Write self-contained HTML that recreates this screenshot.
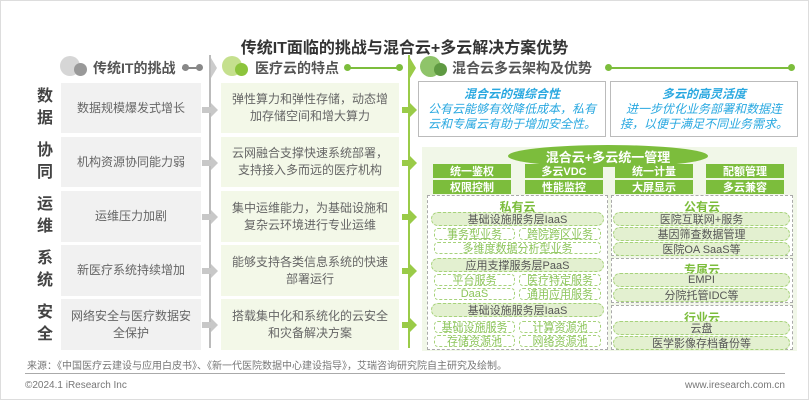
<!DOCTYPE html>
<html><head><meta charset="utf-8"><style>
*{margin:0;padding:0;box-sizing:border-box}
body{width:809px;height:400px;background:#fff;position:relative;overflow:hidden;font-family:"Liberation Sans","Noto Sans CJK SC",sans-serif;}
.a{position:absolute}
.c{display:flex;align-items:center;justify-content:center;text-align:center}
.gb{background:#f1f1f1;color:#666;font-size:12px;line-height:17px}
.lb{background:#f3f8e8;color:#666;font-size:12px;line-height:17px}
.rl{font-weight:bold;font-size:16px;color:#444;width:20px;text-align:center;line-height:22px}
.gr{background:#7cbd3c;color:#fff;font-weight:bold;font-size:11px}
.pill{border:1px dashed #a6d27a;background:#e3f0d0;border-radius:8px;color:#555;font-size:11px}
.sp{border:1px dashed #a6d27a;background:#fff;border-radius:4px;color:#8cc45a;font-size:11px}
.dash{border:1px dashed #aaa}
.ct{color:#7cbd3c;font-weight:bold;font-size:12px}
.hd{font-weight:bold;font-size:14px;color:#555}
</style></head><body>
<div class="a" style="left:0;top:0;width:809px;height:400px;border:1px solid #ddd"></div>
<div class="a" style="left:0;top:34px;width:809px;text-align:center;font-weight:bold;font-size:16px;color:#333">传统IT面临的挑战与混合云+多云解决方案优势</div>
<!-- headers -->
<div class="a" style="left:60px;top:56px;width:20px;height:20px;border-radius:50%;background:#d6d6d6"></div>
<div class="a" style="left:74px;top:63px;width:13px;height:13px;border-radius:50%;background:#999"></div>
<div class="a hd" style="left:93px;top:58px">传统IT的挑战</div>
<div class="a" style="left:182px;top:67px;width:18px;height:2px;background:#888"></div>
<div class="a" style="left:182px;top:64px;width:7px;height:7px;border-radius:50%;background:#888"></div>
<div class="a" style="left:196px;top:64px;width:7px;height:7px;border-radius:50%;background:#888"></div>
<div class="a" style="left:209px;top:55px;width:2px;height:293px;background:#bbb"></div>
<div class="a" style="left:211px;top:58px;width:0;height:0;border-top:10px solid transparent;border-bottom:10px solid transparent;border-left:6px solid #ccc"></div>
<div class="a" style="left:222px;top:56px;width:20px;height:20px;border-radius:50%;background:#c5e08e"></div>
<div class="a" style="left:235px;top:63px;width:13px;height:13px;border-radius:50%;background:#8cc43c"></div>
<div class="a hd" style="left:255px;top:58px">医疗云的特点</div>
<div class="a" style="left:346px;top:67px;width:54px;height:2px;background:#7cbd3c"></div>
<div class="a" style="left:344px;top:64px;width:7px;height:7px;border-radius:50%;background:#7cbd3c"></div>
<div class="a" style="left:396px;top:64px;width:7px;height:7px;border-radius:50%;background:#7cbd3c"></div>
<div class="a" style="left:408px;top:55px;width:2px;height:293px;background:#9acb48"></div>
<div class="a" style="left:410px;top:58px;width:0;height:0;border-top:10px solid transparent;border-bottom:10px solid transparent;border-left:6px solid #9acb48"></div>
<div class="a" style="left:420px;top:56px;width:21px;height:21px;border-radius:50%;background:#8fc46a"></div>
<div class="a" style="left:434px;top:63px;width:13px;height:13px;border-radius:50%;background:#5f9a42"></div>
<div class="a hd" style="left:452px;top:58px">混合云多云架构及优势</div>
<div class="a" style="left:608px;top:67px;width:184px;height:2px;background:#7cbd3c"></div>
<div class="a" style="left:605px;top:64px;width:7px;height:7px;border-radius:50%;background:#7cbd3c"></div>
<div class="a" style="left:788px;top:64px;width:7px;height:7px;border-radius:50%;background:#7cbd3c"></div>
<!-- rows -->
<div class="a rl" style="left:35px;top:86px">数<br>据</div>
<div class="a rl" style="left:35px;top:140px">协<br>同</div>
<div class="a rl" style="left:35px;top:194px">运<br>维</div>
<div class="a rl" style="left:35px;top:248px">系<br>统</div>
<div class="a rl" style="left:35px;top:302px">安<br>全</div>
<div class="a c gb" style="left:61px;top:83px;width:140px;height:50px">数据规模爆发式增长</div>
<div class="a c gb" style="left:61px;top:137px;width:140px;height:50px">机构资源协同能力弱</div>
<div class="a c gb" style="left:61px;top:191px;width:140px;height:51px">运维压力加剧</div>
<div class="a c gb" style="left:61px;top:245px;width:140px;height:51px">新医疗系统持续增加</div>
<div class="a c gb" style="left:61px;top:299px;width:140px;height:51px;padding:0 6px">网络安全与医疗数据安全保护</div>
<div class="a c lb" style="left:221px;top:83px;width:178px;height:50px;padding:0 8px">弹性算力和弹性存储，动态增加存储空间和增大算力</div>
<div class="a c lb" style="left:221px;top:137px;width:178px;height:50px;padding:0 8px">云网融合支撑快速系统部署，支持接入多而远的医疗机构</div>
<div class="a c lb" style="left:221px;top:191px;width:178px;height:51px;padding:0 8px">集中运维能力，为基础设施和复杂云环境进行专业运维</div>
<div class="a c lb" style="left:221px;top:245px;width:178px;height:51px;padding:0 8px">能够支持各类信息系统的快速部署运行</div>
<div class="a c lb" style="left:221px;top:299px;width:178px;height:51px;padding:0 8px">搭载集中化和系统化的云安全和灾备解决方案</div>
<!-- arrows -->
<svg class="a" style="left:0;top:0" width="809" height="400">
<g fill="#c8c8c8"><path d="M202 107h9v-4l7 7-7 7v-4h-9z"/><path d="M202 160h9v-4l7 7-7 7v-4h-9z"/><path d="M202 214h9v-4l7 7-7 7v-4h-9z"/><path d="M202 268h9v-4l7 7-7 7v-4h-9z"/><path d="M202 322h9v-4l7 7-7 7v-4h-9z"/></g>
<g fill="#9acb48"><path d="M402 107h8v-4l7 7-7 7v-4h-8z"/><path d="M402 160h8v-4l7 7-7 7v-4h-8z"/><path d="M402 214h8v-4l7 7-7 7v-4h-8z"/><path d="M402 268h8v-4l7 7-7 7v-4h-8z"/><path d="M402 322h8v-4l7 7-7 7v-4h-8z"/></g>
</svg>
<!-- top boxes -->
<div class="a c" style="left:418px;top:81px;width:188px;height:56px;border:1px solid #bbb;flex-direction:column;font-style:italic;color:#29a8e0;font-size:12px;line-height:15px;padding:0 8px"><b>混合云的强综合性</b>公有云能够有效降低成本，私有云和专属云有助于增加安全性。</div>
<div class="a c" style="left:610px;top:81px;width:188px;height:56px;border:1px solid #bbb;flex-direction:column;font-style:italic;color:#29a8e0;font-size:12px;line-height:15px;padding:0 8px"><b>多云的高灵活度</b>进一步优化业务部署和数据连接，以便于满足不同业务需求。</div>
<!-- green panel -->
<div class="a" style="left:422px;top:147px;width:375px;height:204px;background:#f1f7e8"></div>
<div class="a c" style="left:508px;top:145px;width:200px;height:22px;border-radius:50%;background:#7cbd3c;color:#fff;font-weight:bold;font-size:13px">混合云+多云统一管理</div>
<div class="a c gr" style="left:433px;top:164px;width:78px;height:14px">统一鉴权</div>
<div class="a c gr" style="left:525px;top:164px;width:78px;height:14px">多云VDC</div>
<div class="a c gr" style="left:615px;top:164px;width:78px;height:14px">统一计量</div>
<div class="a c gr" style="left:706px;top:164px;width:78px;height:14px">配额管理</div>
<div class="a c gr" style="left:433px;top:180px;width:78px;height:14px">权限控制</div>
<div class="a c gr" style="left:525px;top:180px;width:78px;height:14px">性能监控</div>
<div class="a c gr" style="left:615px;top:180px;width:78px;height:14px">大屏显示</div>
<div class="a c gr" style="left:706px;top:180px;width:78px;height:14px">多云兼容</div>
<div class="a dash" style="left:427px;top:195px;width:181px;height:155px;background:#fff"></div>
<div class="a dash" style="left:611px;top:195px;width:182px;height:61px;background:#fff"></div>
<div class="a dash" style="left:611px;top:258px;width:182px;height:45px;background:#fff"></div>
<div class="a dash" style="left:611px;top:305px;width:182px;height:45px;background:#fff"></div>
<div class="a ct" style="left:427px;top:198px;width:181px;text-align:center">私有云</div>
<div class="a c pill" style="left:431px;top:212px;width:173px;height:14px">基础设施服务层IaaS</div>
<div class="a c sp" style="left:434px;top:228px;width:81px;height:12px">事务型业务</div>
<div class="a c sp" style="left:519px;top:228px;width:82px;height:12px">跨院跨区业务</div>
<div class="a c sp" style="left:434px;top:242px;width:167px;height:12px">多维度数据分析型业务</div>
<div class="a c pill" style="left:431px;top:258px;width:173px;height:14px">应用支撑服务层PaaS</div>
<div class="a c sp" style="left:434px;top:274px;width:81px;height:12px">平台服务</div>
<div class="a c sp" style="left:519px;top:274px;width:82px;height:12px">医疗特定服务</div>
<div class="a c sp" style="left:434px;top:288px;width:81px;height:12px">DaaS</div>
<div class="a c sp" style="left:519px;top:288px;width:82px;height:12px">通用应用服务</div>
<div class="a c pill" style="left:431px;top:303px;width:173px;height:14px">基础设施服务层IaaS</div>
<div class="a c sp" style="left:434px;top:321px;width:81px;height:12px">基础设施服务</div>
<div class="a c sp" style="left:519px;top:321px;width:82px;height:12px">计算资源池</div>
<div class="a c sp" style="left:434px;top:335px;width:81px;height:12px">存储资源池</div>
<div class="a c sp" style="left:519px;top:335px;width:82px;height:12px">网络资源池</div>
<div class="a ct" style="left:611px;top:198px;width:182px;text-align:center">公有云</div>
<div class="a c pill" style="left:613px;top:212px;width:177px;height:14px">医院互联网+服务</div>
<div class="a c pill" style="left:613px;top:227px;width:177px;height:14px">基因筛查数据管理</div>
<div class="a c pill" style="left:613px;top:242px;width:177px;height:14px">医院OA SaaS等</div>
<div class="a ct" style="left:611px;top:261px;width:182px;text-align:center">专属云</div>
<div class="a c pill" style="left:613px;top:273px;width:177px;height:14px">EMPI</div>
<div class="a c pill" style="left:613px;top:288px;width:177px;height:14px">分院托管IDC等</div>
<div class="a ct" style="left:611px;top:309px;width:182px;text-align:center">行业云</div>
<div class="a c pill" style="left:613px;top:321px;width:177px;height:14px">云盘</div>
<div class="a c pill" style="left:613px;top:336px;width:177px;height:14px">医学影像存档备份等</div>
<!-- footer -->
<div class="a" style="left:27px;top:357px;font-size:10px;color:#777">来源：《中国医疗云建设与应用白皮书》、《新一代医院数据中心建设指导》，艾瑞咨询研究院自主研究及绘制。</div>
<div class="a" style="left:25px;top:373px;width:760px;height:1px;background:#aaa"></div>
<div class="a" style="left:25px;top:380px;font-size:10px;color:#777">©2024.1 iResearch Inc</div>
<div class="a" style="right:24px;top:380px;font-size:10px;color:#777">www.iresearch.com.cn</div>
</body></html>
